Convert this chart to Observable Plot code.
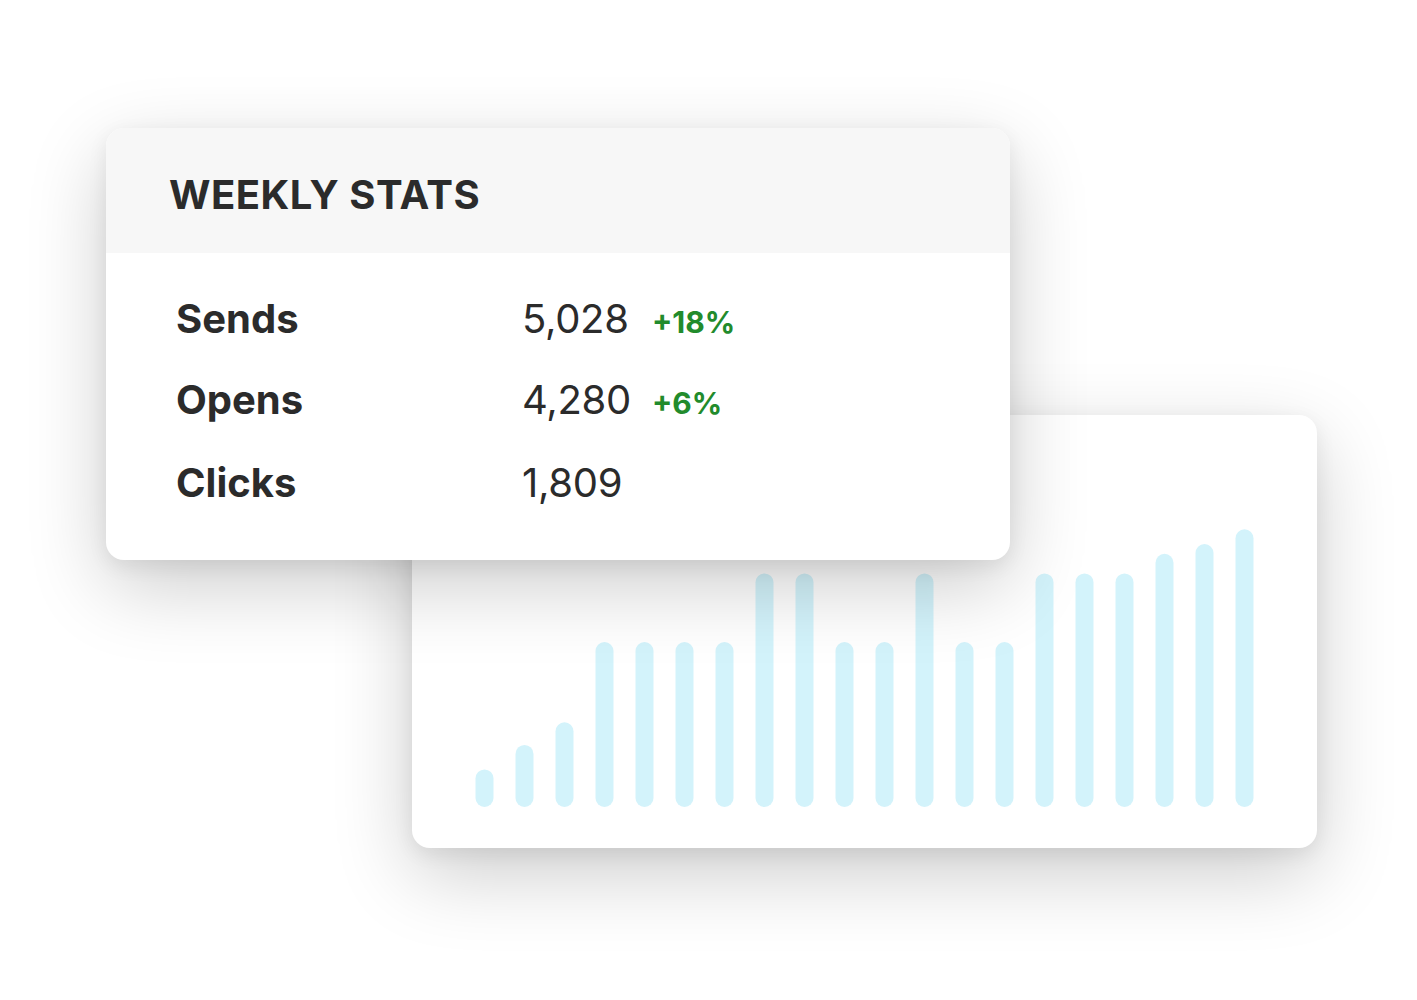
<!DOCTYPE html>
<html>
<head>
<meta charset="utf-8">
<script src="https://cdn.jsdelivr.net/npm/d3@7"></script>
<script src="https://cdn.jsdelivr.net/npm/@observablehq/plot@0.6"></script>
<style>
  html, body { margin: 0; padding: 0; background: #fff; }
  body { width: 1417px; height: 1000px; position: relative; overflow: hidden; font-family: Inter, "Noto Sans", sans-serif; color: #2b2b2b; }
  .card { position: absolute; background: #fff; border-radius: 18px;
    box-shadow: 0 6px 20px rgba(0,0,0,0.07), 0 26px 80px rgba(0,0,0,0.2); }
  #back { left: 412px; top: 415px; width: 905px; height: 433px; }
  #front { left: 106px; top: 128px; width: 904px; height: 432px; overflow: hidden; }
  #front .head { position: absolute; left: 0; top: 0; right: 0; height: 125px; background: #f7f7f7; }
  #front .title { position: absolute; left: 63px; top: 47px; font-size: 40px; line-height: 40px; font-weight: 700; letter-spacing: 0.5px; }
  .row { position: absolute; left: 70px; display: flex; align-items: baseline; font-size: 40px; line-height: 40px; }
  .row .lab { width: 346px; font-weight: 700; }
  .row .val { width: 130px; font-weight: 400; letter-spacing: -0.3px; }
  .row .delta { font-size: 30px; font-weight: 700; color: #228b2c; }
</style>
</head>
<body>
<div class="card" id="back"></div>
<div class="card" id="front">
  <div class="head"><div class="title">WEEKLY STATS</div></div>
  <div id="rows"></div>
</div>
<script>
// bar chart behind the stats card
const days = [1, 2, 3, 4, 5, 6, 7, 8, 9, 10, 11, 12, 13, 14, 15, 16, 17, 18, 19, 20];
const values = [2, 4.5, 6.8, 15, 15, 15, 15, 22, 22, 15, 15, 22, 15, 15, 22, 22, 22, 24, 25, 26.5];

// stats table
const metrics = ['Sends', 'Opens', 'Clicks'];
const totals = ['5,028', '4,280', '1,809'];
const changes = ['+18%', '+6%', ''];

const rows = days.map((d, i) => ({ day: d, value: values[i] }));

const chart = Plot.plot({
  width: 905,
  height: 433,
  margin: 0,
  style: { background: 'transparent' },
  x: { type: 'point', domain: days, range: [72, 832], padding: 0, axis: null },
  y: { domain: [0, 30], range: [383, 89], axis: null },
  marks: [
    Plot.ruleX(rows, { x: 'day', y1: 0, y2: 'value', stroke: '#d3f3fb', strokeWidth: 18, strokeLinecap: 'round' })
  ]
});
document.getElementById('back').append(chart);

const tops = [171, 252, 335];
const holder = document.getElementById('rows');
metrics.forEach((m, i) => {
  const row = document.createElement('div');
  row.className = 'row';
  row.style.top = tops[i] + 'px';
  row.innerHTML = `<span class="lab">${m}</span><span class="val">${totals[i]}</span><span class="delta">${changes[i]}</span>`;
  holder.append(row);
});
</script>
</body>
</html>
